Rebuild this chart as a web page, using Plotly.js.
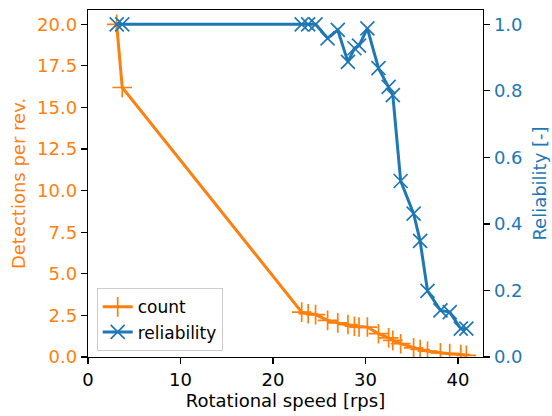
<!DOCTYPE html>
<html>
<head>
<meta charset="utf-8">
<script src="https://cdn.plot.ly/plotly-3.0.1.min.js"></script>
<style>html,body{margin:0;padding:0;background:#fff;}#chart{width:552px;height:416px;}</style>
</head>
<body>
<div id="chart"></div>
<script>
const speed = [3.1, 3.7, 23.1, 23.8, 24.6, 25.9, 27.0, 28.1, 28.8, 29.3, 30.2, 31.4, 32.5, 32.95, 33.8, 35.2, 35.9, 36.7, 38.1, 39.1, 40.3, 40.9];
const count = [20.0, 16.2, 2.7, 2.6, 2.55, 2.2, 2.05, 1.95, 1.85, 1.8, 1.8, 1.4, 1.15, 1.0, 0.8, 0.55, 0.45, 0.35, 0.25, 0.2, 0.15, 0.1];
const reliability = [1, 1, 1, 1, 1, 0.958, 0.983, 0.887, 0.928, 0.936, 0.988, 0.868, 0.812, 0.787, 0.529, 0.431, 0.349, 0.199, 0.14, 0.135, 0.085, 0.085];
const leftTicks = [0, 2.5, 5, 7.5, 10, 12.5, 15, 17.5, 20];
const rightTicks = [0, 0.2, 0.4, 0.6, 0.8, 1.0];
const xTicks = [0, 10, 20, 30, 40];

const ORANGE = '#ff7f0e', BLUE = '#1f77b4';
const FONT = 'DejaVu Sans, sans-serif';
const FS = 18;

const traces = [
  {x: speed, y: count, name: 'count', mode: 'lines+markers', yaxis: 'y',
   line: {color: ORANGE, width: 3},
   marker: {symbol: 'cross-thin', size: 14, color: ORANGE, line: {color: ORANGE, width: 1.7}}},
  {x: speed, y: reliability, name: 'reliability', mode: 'lines+markers', yaxis: 'y2',
   line: {color: BLUE, width: 3},
   marker: {symbol: 'x-thin', size: 14, color: BLUE, line: {color: BLUE, width: 1.7}}}
];

const layout = {
  width: 552, height: 416,
  margin: {l: 88, r: 69, t: 10, b: 59, pad: 0},
  paper_bgcolor: '#fff', plot_bgcolor: '#fff',
  font: {family: FONT, size: FS, color: '#000'},
  showlegend: true,
  legend: {x: 0.022, y: 0.198, xanchor: 'left', yanchor: 'top',
           bgcolor: 'rgba(255,255,255,0.9)', bordercolor: '#cccccc', borderwidth: 1,
           font: {family: FONT, size: FS - 1, color: '#000'}, tracegroupgap: 0},
  xaxis: {range: [0, 42.7], tickvals: xTicks, ticktext: xTicks.map(String),
          showgrid: false, zeroline: false, showline: true, linecolor: '#000', linewidth: 1.3,
          mirror: true, ticks: 'outside', ticklen: 6, tickwidth: 1.2, tickcolor: '#000',
          tickfont: {family: FONT, size: FS, color: '#000'},
          title: {text: 'Rotational speed [rps]', font: {family: FONT, size: FS, color: '#000'}, standoff: 5}},
  yaxis: {range: [0, 20.86], tickvals: leftTicks, ticktext: leftTicks.map(v => v.toFixed(1)),
          showgrid: false, zeroline: false, showline: true, linecolor: '#000', linewidth: 1.3,
          ticks: 'outside', ticklen: 6, tickwidth: 1.2, tickcolor: '#000',
          tickfont: {family: FONT, size: FS, color: ORANGE},
          title: {text: 'Detections per rev.', font: {family: FONT, size: FS, color: ORANGE}, standoff: 6}},
  yaxis2: {range: [0, 1.043], tickvals: rightTicks, ticktext: rightTicks.map(v => v.toFixed(1)),
           overlaying: 'y', side: 'right',
           showgrid: false, zeroline: false, showline: true, linecolor: '#000', linewidth: 1.3,
           ticks: 'outside', ticklen: 6, tickwidth: 1.2, tickcolor: '#000',
           tickfont: {family: FONT, size: FS, color: BLUE},
           title: {text: 'Reliability [-]', font: {family: FONT, size: FS, color: BLUE}, standoff: 12}}
};

Plotly.newPlot('chart', traces, layout, {displayModeBar: false, staticPlot: true});
</script>
</body>
</html>
